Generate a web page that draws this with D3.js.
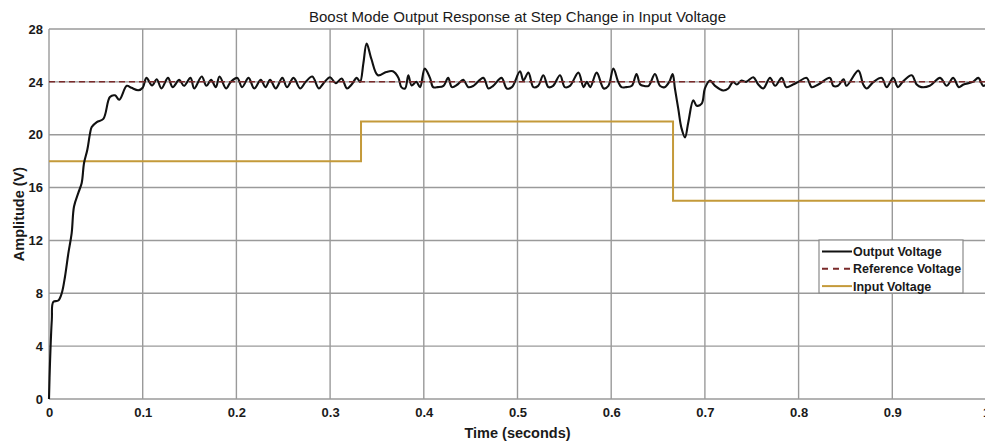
<!DOCTYPE html>
<html>
<head>
<meta charset="utf-8">
<script src="https://cdn.jsdelivr.net/npm/d3@7"></script>
<style>
  body { margin: 0; background: #fff; }
  text { font-family: "Liberation Sans", Arial, sans-serif; }
</style>
</head>
<body>
<svg id="chart"></svg>
<script>
// values
const xTicks = [0, 0.1, 0.2, 0.3, 0.4, 0.5, 0.6, 0.7, 0.8, 0.9, 1];
const yTicks = [0, 4, 8, 12, 16, 20, 24, 28];

const referenceVoltage = [[0, 24], [1, 24]];
const inputVoltage = [[0, 18], [0.333, 21], [0.666, 15], [1, 15]];

const outputVoltage = [
  [0, 0], [0.001, 2.6], [0.003, 6.0], [0.0046, 7.35], [0.0099, 7.45], [0.0136, 8.0], [0.0171, 9.27],
  [0.0206, 11.0], [0.0242, 12.55], [0.0267, 14.57], [0.0313, 15.6], [0.0349, 16.35], [0.0374, 17.86],
  [0.0409, 18.86], [0.0438, 20.1], [0.0456, 20.58], [0.051, 20.96], [0.058, 21.2], [0.065, 22.85],
  [0.0704, 22.98], [0.075, 22.65], [0.083, 23.7], [0.088, 23.55], [0.0953, 23.36], [0.100, 23.55],
  [0.104, 24.3], [0.110, 23.73], [0.115, 24.2], [0.120, 23.5], [0.127, 24.3], [0.132, 23.6],
  [0.139, 24.15], [0.144, 23.7], [0.151, 24.3], [0.155, 23.5], [0.163, 24.4], [0.168, 23.7],
  [0.173, 24.15], [0.178, 23.6], [0.182, 24.4], [0.189, 23.5], [0.194, 24.0], [0.201, 24.3],
  [0.206, 23.6], [0.213, 24.3], [0.219, 23.5], [0.226, 24.15], [0.231, 23.6], [0.236, 24.15],
  [0.242, 23.5], [0.249, 24.3], [0.254, 23.6], [0.261, 24.3], [0.268, 23.5], [0.274, 24.0],
  [0.281, 24.4], [0.288, 23.5], [0.293, 23.9], [0.300, 24.35], [0.306, 23.9], [0.3123, 24.25],
  [0.318, 23.5], [0.323, 23.8], [0.3284, 24.3], [0.332, 24.0], [0.3355, 25.4], [0.339, 26.9],
  [0.344, 25.75], [0.351, 24.5], [0.360, 24.75], [0.367, 24.8], [0.373, 24.3], [0.376, 23.6],
  [0.380, 23.5], [0.3835, 24.5], [0.387, 23.73], [0.392, 24.0], [0.396, 23.6], [0.401, 25.0],
  [0.4066, 24.3], [0.410, 23.6], [0.415, 23.6], [0.421, 23.7], [0.426, 24.3], [0.430, 23.6],
  [0.436, 23.8], [0.442, 24.15], [0.4475, 23.6], [0.453, 23.7], [0.4635, 24.3], [0.469, 23.5],
  [0.474, 23.7], [0.483, 24.3], [0.4885, 23.5], [0.494, 23.6], [0.5027, 24.8], [0.5063, 24.1],
  [0.5116, 24.7], [0.517, 23.6], [0.522, 23.7], [0.5276, 24.5], [0.533, 23.6], [0.538, 23.7],
  [0.5454, 24.5], [0.5505, 23.6], [0.556, 23.7], [0.565, 24.7], [0.5705, 23.6], [0.574, 24.0],
  [0.5776, 23.6], [0.5845, 24.7], [0.592, 23.5], [0.597, 23.7], [0.6023, 25.0], [0.6075, 24.0],
  [0.611, 23.6], [0.616, 23.6], [0.622, 23.7], [0.627, 24.6], [0.631, 23.8], [0.6345, 23.7],
  [0.640, 23.7], [0.6467, 24.6], [0.652, 23.7], [0.657, 23.6], [0.662, 24.0], [0.6656, 24.6],
  [0.668, 23.5], [0.6716, 21.95], [0.675, 20.5], [0.6788, 19.8], [0.6823, 20.95], [0.6876, 22.6],
  [0.6912, 22.2], [0.6966, 22.35], [0.700, 23.5], [0.7054, 24.1], [0.7108, 23.7], [0.7196, 23.35],
  [0.725, 23.5], [0.730, 24.0], [0.734, 23.8], [0.739, 24.1], [0.744, 24.0], [0.7516, 24.35],
  [0.757, 23.8], [0.7623, 23.5], [0.7695, 24.3], [0.775, 23.7], [0.782, 24.3], [0.787, 23.6],
  [0.794, 23.8], [0.7997, 24.0], [0.8086, 24.3], [0.814, 23.6], [0.821, 23.8], [0.8335, 24.3],
  [0.837, 23.7], [0.842, 23.7], [0.848, 24.2], [0.851, 23.7], [0.8637, 24.85], [0.869, 23.8],
  [0.8727, 23.5], [0.880, 24.0], [0.8887, 24.3], [0.894, 23.6], [0.901, 24.3], [0.906, 23.6],
  [0.911, 24.0], [0.9207, 24.5], [0.926, 23.8], [0.931, 23.6], [0.940, 23.7], [0.951, 24.3],
  [0.958, 23.7], [0.965, 24.3], [0.971, 23.6], [0.976, 23.8], [0.986, 24.0], [0.9918, 24.3],
  [0.997, 23.7], [1.0, 23.8]
];

const legendItems = [
  {label: "Output Voltage", color: "#111", dash: null},
  {label: "Reference Voltage", color: "#7a2a2a", dash: "6,5"},
  {label: "Input Voltage", color: "#c49a3a", dash: null}
];

const width = 985, height = 443;
const margin = {top: 29, left: 49};
const plotW = 937, plotH = 370;

const svg = d3.select("#chart").attr("width", width).attr("height", height);
const chart = svg.append("g").attr("transform", `translate(${margin.left},${margin.top})`);

const xScale = d3.scaleLinear().domain([0, 1]).range([0, plotW]);
const yScale = d3.scaleLinear().domain([0, 28]).range([plotH, 0]);

// grid
chart.append("g").selectAll("line").data(xTicks).join("line")
  .attr("x1", d => xScale(d)).attr("x2", d => xScale(d))
  .attr("y1", 0).attr("y2", plotH)
  .attr("stroke", "#9a9a9a").attr("stroke-width", 1.4);
chart.append("g").selectAll("line").data(yTicks).join("line")
  .attr("x1", 0).attr("x2", plotW)
  .attr("y1", d => yScale(d)).attr("y2", d => yScale(d))
  .attr("stroke", "#9a9a9a").attr("stroke-width", 1.4);

// axes (labels only, lines come from the grid)
const xAxis = d3.axisBottom(xScale).tickValues(xTicks).tickSize(0).tickPadding(9).tickFormat(d3.format("~g"));
const yAxis = d3.axisLeft(yScale).tickValues(yTicks).tickSize(0).tickPadding(6);

const xAxisG = chart.append("g").attr("transform", `translate(0,${plotH})`).call(xAxis);
const yAxisG = chart.append("g").call(yAxis);
[xAxisG, yAxisG].forEach(g => {
  g.select(".domain").remove();
  g.selectAll("text")
    .attr("font-family", "Liberation Sans, Arial, sans-serif")
    .attr("font-size", 13).attr("font-weight", "bold").attr("fill", "#1a1a1a");
});

const line = d3.line().x(d => xScale(d[0])).y(d => yScale(d[1]));

chart.append("path").datum(inputVoltage)
  .attr("d", line.curve(d3.curveStepAfter))
  .attr("fill", "none").attr("stroke", "#c49a3a").attr("stroke-width", 2);

chart.append("path").datum(outputVoltage)
  .attr("d", line.curve(d3.curveCatmullRom.alpha(0.5)))
  .attr("fill", "none").attr("stroke", "#111").attr("stroke-width", 2.1)
  .attr("stroke-linejoin", "round");

chart.append("path").datum(referenceVoltage)
  .attr("d", line.curve(d3.curveLinear))
  .attr("fill", "none").attr("stroke", "#7a2a2a").attr("stroke-width", 1.5)
  .attr("stroke-dasharray", "6,4");

// title and axis labels
svg.append("text")
  .attr("x", margin.left + plotW / 2).attr("y", 22)
  .attr("text-anchor", "middle")
  .style("font-size", "15px").attr("fill", "#1a1a1a")
  .text("Boost Mode Output Response at Step Change in Input Voltage");

svg.append("text")
  .attr("x", margin.left + plotW / 2).attr("y", 438)
  .attr("text-anchor", "middle")
  .style("font-size", "14.5px").style("font-weight", "bold").attr("fill", "#1a1a1a")
  .text("Time (seconds)");

svg.append("text")
  .attr("transform", `translate(24,${margin.top + plotH / 2}) rotate(-90)`)
  .attr("text-anchor", "middle")
  .style("font-size", "14.5px").style("font-weight", "bold").attr("fill", "#1a1a1a")
  .text("Amplitude (V)");

// legend
const legend = svg.append("g").attr("transform", "translate(819,240)");
legend.append("rect")
  .attr("width", 144).attr("height", 53)
  .attr("fill", "#fff").attr("stroke", "#8a8a8a").attr("stroke-width", 1.2);

const entries = legend.selectAll(".entry").data(legendItems).join("g")
  .attr("class", "entry")
  .attr("transform", (d, i) => `translate(0,${11.5 + i * 17.3})`);
entries.append("line")
  .attr("x1", 3).attr("x2", 33).attr("y1", 0).attr("y2", 0)
  .attr("stroke", d => d.color).attr("stroke-width", 2)
  .attr("stroke-dasharray", d => d.dash);
entries.append("text")
  .attr("x", 34).attr("y", 4.5)
  .style("font-size", "12.5px").style("font-weight", "bold").attr("fill", "#1a1a1a")
  .text(d => d.label);
</script>
</body>
</html>
